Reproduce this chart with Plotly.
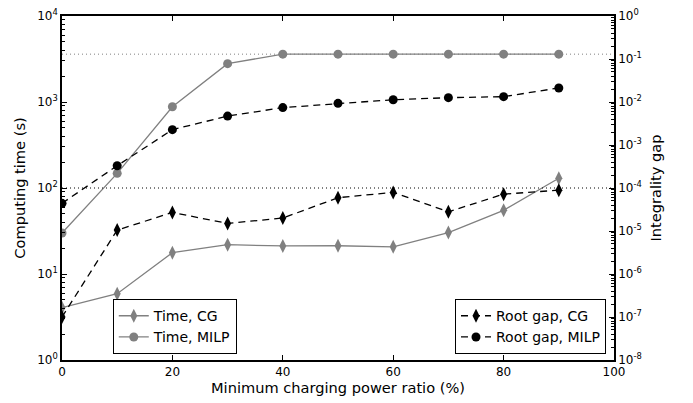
import plotly.graph_objects as go

ratio = [0, 10, 20, 30, 40, 50, 60, 70, 80, 90]
time_cg = [4.06, 5.9, 17.7, 21.9, 21.2, 21.3, 20.7, 30.3, 55, 130]
time_milp = [30, 148, 880, 2790, 3600, 3600, 3600, 3600, 3600, 3600]
gap_cg = [1.0e-7, 1.05e-5, 2.7e-5, 1.5e-5, 2.0e-5, 5.95e-5, 7.9e-5, 2.8e-5, 7.2e-5, 8.9e-5]
gap_milp = [4.4e-5, 3.3e-4, 2.27e-3, 4.7e-3, 7.4e-3, 9.3e-3, 1.13e-2, 1.26e-2, 1.33e-2, 2.12e-2]
time_limit = 3600
ref_level = 100

time_exps = [0, 1, 2, 3, 4]
gap_exps = [-8, -7, -6, -5, -4, -3, -2, -1, 0]
time_tickvals = [10 ** e for e in time_exps]
time_ticktext = ["10<sup>%d</sup>" % e for e in time_exps]
gap_tickvals = [10.0 ** e for e in gap_exps]
gap_ticktext = ["10<sup>%d</sup>" % e for e in gap_exps]

GRAY = "#808080"
FONT = "DejaVu Sans"

fig = go.Figure()

fig.add_trace(go.Scatter(
    x=ratio, y=time_cg, name="Time, CG", mode="lines+markers",
    line=dict(color=GRAY, width=1.3),
    marker=dict(symbol="diamond-tall", size=10, color=GRAY, line=dict(width=0)),
    legend="legend", yaxis="y"))
fig.add_trace(go.Scatter(
    x=ratio, y=time_milp, name="Time, MILP", mode="lines+markers",
    line=dict(color=GRAY, width=1.3),
    marker=dict(symbol="circle", size=9, color=GRAY, line=dict(width=0)),
    legend="legend", yaxis="y"))
fig.add_trace(go.Scatter(
    x=ratio, y=gap_cg, name="Root gap, CG", mode="lines+markers",
    line=dict(color="black", width=1.3, dash="7px,5px"),
    marker=dict(symbol="diamond-tall", size=10, color="black", line=dict(width=0)),
    legend="legend2", yaxis="y2"))
fig.add_trace(go.Scatter(
    x=ratio, y=gap_milp, name="Root gap, MILP", mode="lines+markers",
    line=dict(color="black", width=1.3, dash="7px,5px"),
    marker=dict(symbol="circle", size=9, color="black", line=dict(width=0)),
    legend="legend2", yaxis="y2"))

fig.add_shape(type="line", xref="x domain", yref="y", x0=0, x1=1,
              y0=time_limit, y1=time_limit,
              line=dict(color=GRAY, width=1, dash="1px,3px"))
fig.add_shape(type="line", xref="x domain", yref="y", x0=0, x1=1,
              y0=ref_level, y1=ref_level,
              line=dict(color="black", width=1, dash="1px,3px"))

tickfont = dict(family=FONT, size=12, color="black")
titlefont = dict(family=FONT, size=14.6, color="black")
legfont = dict(family=FONT, size=14, color="black")
minor = dict(ticks="inside", ticklen=3, tickcolor="black", tickwidth=1,
             showgrid=False, dtick="D1")

fig.update_layout(
    width=693, height=403,
    margin=dict(l=62, r=79, t=16, b=43),
    paper_bgcolor="white", plot_bgcolor="white",
    font=dict(family=FONT, size=12, color="black"),
    xaxis=dict(range=[0, 100], dtick=20, tick0=0, showgrid=False, zeroline=False,
               showline=True, linecolor="black", linewidth=1.5, mirror="ticks",
               ticks="inside", ticklen=5, tickcolor="black",
               tickfont=tickfont, automargin=False,
               title=dict(text="Minimum charging power ratio (%)", font=titlefont, standoff=5)),
    yaxis=dict(type="log", range=[0, 4], tickmode="array",
               tickvals=time_tickvals, ticktext=time_ticktext,
               showgrid=False, zeroline=False, showline=True, linecolor="black",
               linewidth=1.5, ticks="inside", ticklen=5, tickcolor="black",
               minor=minor, tickfont=tickfont, automargin=False,
               ticklabeloverflow="allow",
               title=dict(text="Computing time (s)", font=titlefont, standoff=8)),
    yaxis2=dict(type="log", range=[-8, 0], tickmode="array",
                tickvals=gap_tickvals, ticktext=gap_ticktext,
                overlaying="y", side="right", showgrid=False, zeroline=False,
                showline=True, linecolor="black", linewidth=1.5,
                ticks="inside", ticklen=5, tickcolor="black",
                minor=minor, tickfont=tickfont, automargin=False,
                ticklabeloverflow="allow",
                title=dict(text="Integrality gap", font=titlefont, standoff=10)),
    legend=dict(x=0.092, y=0.017, xanchor="left", yanchor="bottom",
                bordercolor="black", borderwidth=1, bgcolor="white",
                font=legfont, tracegroupgap=0),
    legend2=dict(x=0.9855, y=0.017, xanchor="right", yanchor="bottom",
                 bordercolor="black", borderwidth=1, bgcolor="white",
                 font=legfont, tracegroupgap=0),
    showlegend=True,
)

fig.write_html("out.html",
               config={"displayModeBar": False},
               post_script="document.body.style.margin='0';document.body.style.padding='0';")
